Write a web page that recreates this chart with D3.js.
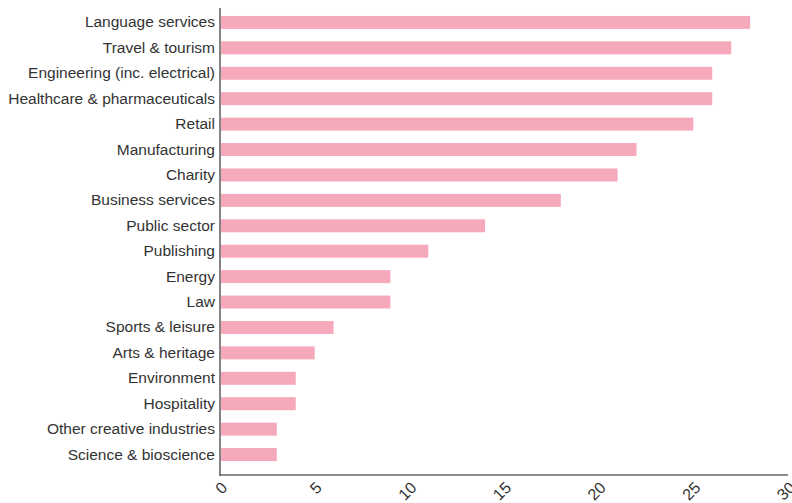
<!DOCTYPE html>
<html><head><meta charset="utf-8">
<script src="https://cdn.jsdelivr.net/npm/d3@7"></script>
<style>
body{margin:0;background:#fff;}
text{font-family:"Liberation Sans",Arial,sans-serif;}
</style></head>
<body><svg id="c" width="792" height="503"></svg>
<script>
const categories = ["Language services","Travel & tourism","Engineering (inc. electrical)","Healthcare & pharmaceuticals","Retail","Manufacturing","Charity","Business services","Public sector","Publishing","Energy","Law","Sports & leisure","Arts & heritage","Environment","Hospitality","Other creative industries","Science & bioscience"];
const values = [28,27,26,26,25,22,21,18,14,11,9,9,6,5,4,4,3,3];
const xTicks = [0,5,10,15,20,25,30];

const svg = d3.select("#c");
const x0 = 220, x1 = 788, yTop = 8, yBot = 475;
const x = d3.scaleLinear().domain([0,30]).range([x0, x1]);
const y = d3.scaleBand().domain(categories).range([3.5, 473.5]).paddingInner(0.49).paddingOuter(0.49);

svg.append("g").selectAll("rect").data(values).join("rect")
  .attr("x", x(0)+1)
  .attr("y", (d,i)=>y(categories[i]))
  .attr("width", d=>x(d)-x(0)-1)
  .attr("height", y.bandwidth())
  .attr("fill", "#f6a9bb");

// y axis
const ya = svg.append("g").attr("transform",`translate(${x0},0)`)
  .call(d3.axisLeft(y).tickSize(0).tickPadding(5));
ya.select(".domain").remove();
ya.selectAll("text").attr("font-size","15.5px").attr("fill","#333").style("font-family","'Liberation Sans',Arial,sans-serif");

// x axis
const xa = svg.append("g").attr("transform",`translate(0,${yBot})`)
  .call(d3.axisBottom(x).tickValues(xTicks).tickSize(0).tickPadding(8));
xa.select(".domain").remove();
xa.selectAll("text")
  .attr("font-size","16px").attr("fill","#333")
  .style("font-family","'Liberation Sans',Arial,sans-serif")
  .style("text-anchor","end")
  .attr("transform","translate(-6,0) rotate(-45)");

svg.append("line").attr("x1",x0).attr("x2",x0).attr("y1",yTop).attr("y2",yBot+1)
  .attr("stroke","#666").attr("stroke-width",1.6);
svg.append("line").attr("x1",x0-1).attr("x2",x1).attr("y1",yBot).attr("y2",yBot)
  .attr("stroke","#666").attr("stroke-width",1.6);
</script></body></html>
